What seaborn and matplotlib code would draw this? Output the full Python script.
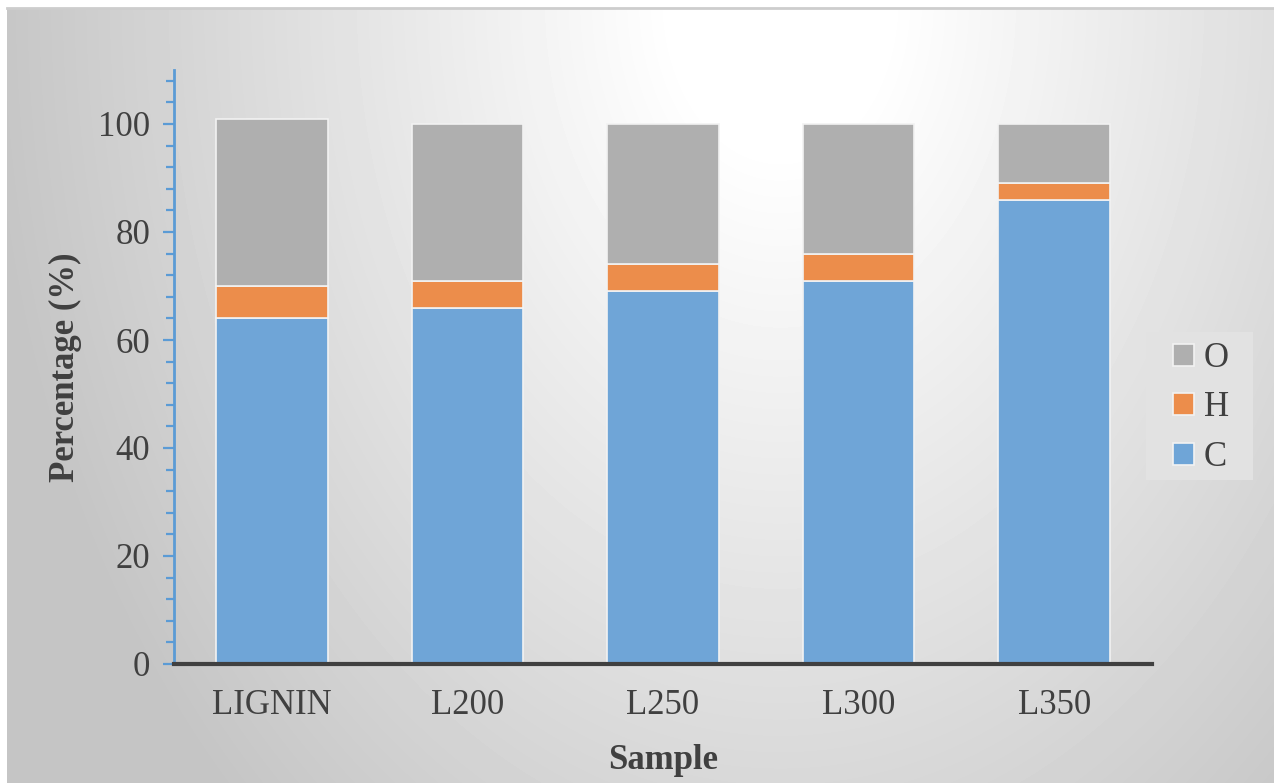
import numpy as np
import pandas as pd
import matplotlib
matplotlib.use("Agg")
import matplotlib.pyplot as plt
import seaborn as sns
from matplotlib.patches import Patch, Rectangle
from matplotlib.ticker import MultipleLocator

# ---- data ----
samples = ["LIGNIN", "L200", "L250", "L300", "L350"]
carbon = [64, 66, 69, 71, 86]
hydrogen = [6, 5, 5, 5, 3]
oxygen = [31, 29, 26, 24, 11]
series_names = ["C", "H", "O"]
series_colors = ["#6FA5D7", "#EC8D4B", "#AFAFAF"]

sns.set_theme(style="white")
plt.rcParams["font.family"] = ["Liberation Serif", "DejaVu Serif"]

W, H = 1274, 783
fig = plt.figure(figsize=(W / 100, H / 100), dpi=100)
fig.patch.set_facecolor("white")

# ---- gradient background panel ----
bg = fig.add_axes([7 / W, 0, 1 - 7 / W, 775 / H])
bg.set_zorder(0)
yy, xx = np.mgrid[0:775, 0:W - 7]
xx = xx + 7
yy = yy + 8
r = np.sqrt(((xx - 780) / 720.0) ** 2 + ((yy - 0) / 1000.0) ** 2)
v = np.clip(264 - 61 * r, 197, 255)
bg.imshow(v, cmap="gray", vmin=0, vmax=255, aspect="auto", interpolation="bilinear")
bg.set_xticks([])
bg.set_yticks([])
for s in ["left", "right", "bottom"]:
    bg.spines[s].set_visible(False)
bg.spines["top"].set_color("#cdcdcd")
bg.spines["top"].set_linewidth(2)

# ---- main axes ----
ax = fig.add_axes([174 / W, (H - 664) / H, (1152 - 174) / W, (664 - 70) / H])
ax.set_zorder(1)
ax.patch.set_alpha(0)

df = pd.DataFrame({"Sample": samples, "C": carbon, "H": hydrogen, "O": oxygen})
bottoms = np.zeros(len(samples))
for name, col in zip(series_names, series_colors):
    sns.barplot(data=df, x="Sample", y=name, order=samples, color=col,
                saturation=1, width=0.57, errorbar=None, bottom=bottoms.copy(),
                edgecolor="#f2f2f2", linewidth=1.2, ax=ax)
    bottoms = bottoms + df[name].to_numpy()

ax.set_xlim(-0.5, 4.5)
ax.set_ylim(0, 110)
ax.yaxis.set_major_locator(MultipleLocator(20))
ax.yaxis.set_minor_locator(MultipleLocator(4))
ax.set_yticks(np.arange(0, 101, 20))

txt = "#404040"
ax.tick_params(axis="y", which="major", direction="out", length=8, width=1.6,
               color="#5B9BD5", labelsize=25, labelcolor=txt, pad=9, left=True)
ax.tick_params(axis="y", which="minor", direction="out", length=5.5, width=1.6,
               color="#5B9BD5", left=True)
ax.tick_params(axis="x", length=0, labelsize=25, labelcolor=txt, pad=18)

for s in ["top", "right"]:
    ax.spines[s].set_visible(False)
ax.spines["left"].set_color("#5B9BD5")
ax.spines["left"].set_linewidth(2)
ax.spines["bottom"].set_color("#404040")
ax.spines["bottom"].set_linewidth(3)
ax.spines["bottom"].set_zorder(5)
ax.grid(False)

ax.set_xlabel("Sample", fontsize=25, fontweight="bold", color=txt, labelpad=16)
ax.set_ylabel("Percentage (%)", fontsize=25, fontweight="bold", color=txt, labelpad=12)

# legend box background (Excel-style padding)
fig.add_artist(Rectangle((1146 / W, 1 - 480 / H), 107 / W, 148 / H,
                         transform=fig.transFigure, facecolor="#e2e2e2",
                         edgecolor="none", zorder=9))
handles = [Patch(facecolor=c, edgecolor="#f2f2f2", linewidth=1.2)
           for c in series_colors[::-1]]
leg = fig.legend(handles, series_names[::-1], loc="center",
                 bbox_to_anchor=(1201 / W, 1 - 408 / H), fontsize=25,
                 frameon=False,
                 handlelength=0.6, handleheight=0.6, handletextpad=0.3,
                 labelspacing=0.47, borderpad=0.2)
for t in leg.get_texts():
    t.set_color(txt)
leg.set_zorder(10)

fig.savefig("out.png", dpi=100)
